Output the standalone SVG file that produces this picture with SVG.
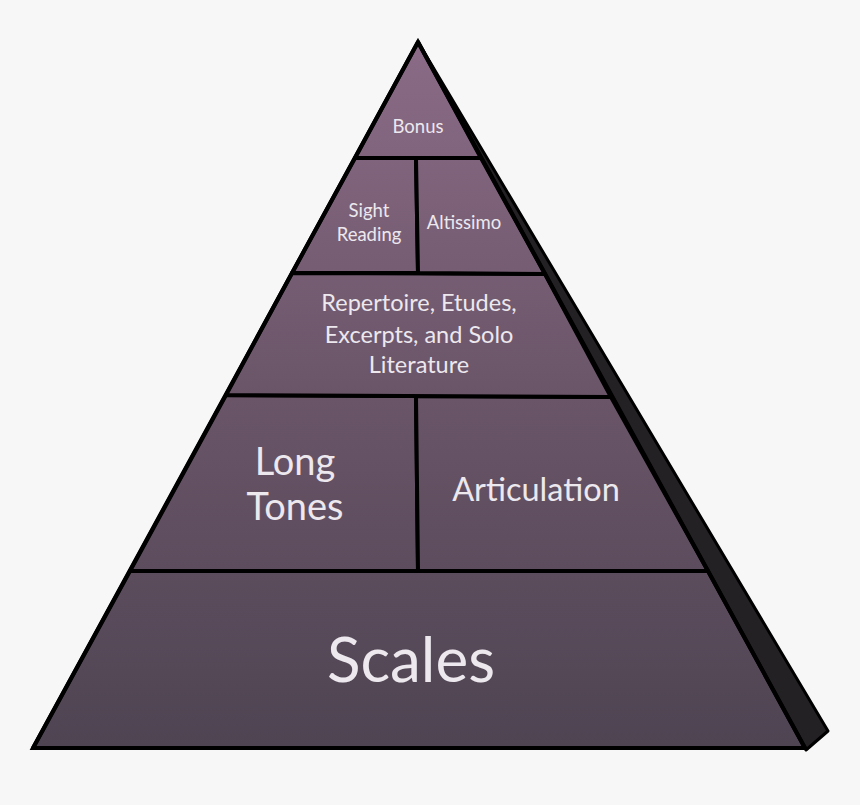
<svg xmlns="http://www.w3.org/2000/svg" width="860" height="805" viewBox="0 0 860 805">
<defs>
<linearGradient id="g" gradientUnits="userSpaceOnUse" x1="0" y1="42" x2="0" y2="748">
<stop offset="0" stop-color="#8b6b87"/>
<stop offset="0.5" stop-color="#6a5568"/>
<stop offset="1" stop-color="#4e4452"/>
</linearGradient>
</defs>
<style>
.tier{fill:url(#g);stroke:#000;stroke-width:4;stroke-linejoin:round}
.t{font-family:Lato,"Open Sans",sans-serif;fill:#ece8ee;text-anchor:middle}
</style>
<rect width="860" height="805" fill="#f7f7f7"/>
<g id="shadow">
<polygon points="418,42 828,731 806,750 805,748" fill="#242125" stroke="#000" stroke-width="3" stroke-linejoin="round"/>
</g>
<g id="scales">
<polygon class="tier" points="130,571 708,571 805,748 33,748"/>
<text class="t" x="411" y="682" font-size="62">Scales</text>
</g>
<g id="long-tones">
<polygon class="tier" points="226,395 416,396 418,571 130,571"/>
<text class="t" x="295" y="475" font-size="38">Long</text>
<text class="t" x="295" y="520" font-size="38">Tones</text>
</g>
<g id="articulation">
<polygon class="tier" points="416,396 611,397 708,571 418,571"/>
<text class="t" x="536" y="501" font-size="32.5">Articulation</text>
</g>
<g id="repertoire">
<polygon class="tier" points="292,273 545,274 611,397 226,395"/>
<text class="t" x="419" y="311" font-size="23.5">Repertoire, Etudes,</text>
<text class="t" x="419" y="343" font-size="23.5">Excerpts, and Solo</text>
<text class="t" x="419" y="373" font-size="23.5">Literature</text>
</g>
<g id="sight-reading">
<polygon class="tier" points="355,158 416,158 418,273 292,273"/>
<text class="t" x="369" y="217" font-size="18.5">Sight</text>
<text class="t" x="369" y="241" font-size="18.5">Reading</text>
</g>
<g id="altissimo">
<polygon class="tier" points="416,158 481,158 545,274 418,273"/>
<text class="t" x="464" y="229" font-size="18.5">Altissimo</text>
</g>
<g id="bonus">
<polygon class="tier" points="418,42 481,158 355,158"/>
<text class="t" x="418" y="133" font-size="18.5">Bonus</text>
</g>
<g id="outline">
<polygon points="418,42 805,748 33,748" fill="none" stroke="#000" stroke-width="4" stroke-linejoin="miter"/>
</g>
</svg>
